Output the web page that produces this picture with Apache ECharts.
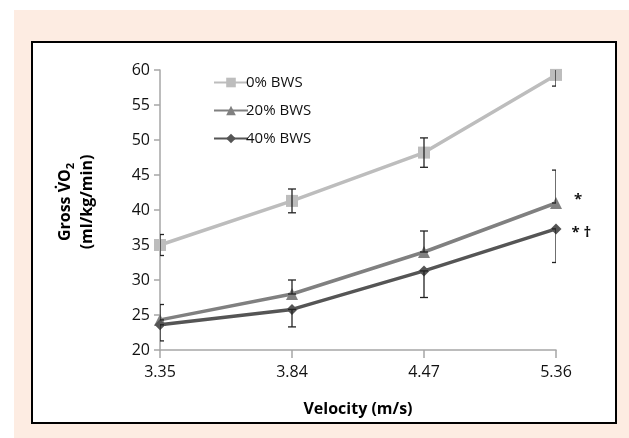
<!DOCTYPE html>
<html>
<head>
<meta charset="utf-8">
<script src="https://cdn.jsdelivr.net/npm/echarts@6/dist/echarts.min.js"></script>
<style>
  html, body { margin: 0; padding: 0; background: #fff; }
  #wrap { position: absolute; left: 14px; top: 10px; width: 615px; height: 428px; background: #fdece2; }
  #box { position: absolute; left: 31px; top: 41px; width: 582px; height: 379px; background: #fff; border: 2px solid #000; }
  #chart { position: absolute; left: 0; top: 0; width: 629px; height: 438px; }
</style>
</head>
<body>
<div id="wrap"></div>
<div id="box"></div>
<div id="chart"></div>
<script>
// 速度（类目）
var velocities = ['3.35', '3.84', '4.47', '5.36'];
// 各组均值
var bws0 = [35.0, 41.3, 48.2, 59.3];
var bws20 = [24.3, 28.0, 34.0, 41.0];
var bws40 = [23.6, 25.8, 31.3, 37.3];
// 误差（0%双向，20%只向上，40%只向下）
var bws0Err = [1.5, 1.7, 2.1, 1.6];
var bws20Err = [2.2, 2.0, 3.0, 4.7];
var bws40Err = [2.3, 2.5, 3.8, 4.8];

var font = 'Open Sans';

function errData(vals, errs, up, down) {
    return vals.map(function (v, i) {
        return [i, down ? v - errs[i] : v, up ? v + errs[i] : v];
    });
}
var errAll = errData(bws0, bws0Err, true, true)
    .concat(errData(bws20, bws20Err, true, false))
    .concat(errData(bws40, bws40Err, false, true));

function renderErr(params, api) {
    var lo = api.coord([api.value(0), api.value(1)]);
    var hi = api.coord([api.value(0), api.value(2)]);
    var w = 4;
    var st = { stroke: '#222', lineWidth: 1.3 };
    return {
        type: 'group',
        children: [
            { type: 'line', shape: { x1: lo[0], y1: lo[1], x2: hi[0], y2: hi[1] }, style: st },
            { type: 'line', shape: { x1: lo[0] - w, y1: lo[1], x2: lo[0] + w, y2: lo[1] }, style: st },
            { type: 'line', shape: { x1: hi[0] - w, y1: hi[1], x2: hi[0] + w, y2: hi[1] }, style: st }
        ]
    };
}

var myChart = echarts.init(document.getElementById('chart'));
var option = {
    backgroundColor: 'transparent',
    animation: false,
    textStyle: { fontFamily: font },
    grid: { left: 160, right: 73, top: 70, bottom: 88 },
    legend: {
        orient: 'vertical',
        left: 208,
        top: 70,
        itemGap: 13,
        itemWidth: 34,
        itemHeight: 12,
        data: ['0% BWS', '20% BWS', '40% BWS'],
        textStyle: { fontFamily: font, fontSize: 15, color: '#111', padding: [0, 0, 0, -7] }
    },
    xAxis: {
        type: 'category',
        data: velocities,
        boundaryGap: false,
        name: 'Velocity (m/s)',
        nameLocation: 'middle',
        nameGap: 51,
        nameTextStyle: { fontFamily: font, fontSize: 16, fontWeight: 'bold', color: '#000' },
        axisLine: { lineStyle: { color: '#a6a6a6', width: 1.5 } },
        axisTick: { show: true, length: 8, lineStyle: { color: '#a6a6a6', width: 1.5 } },
        axisLabel: { fontFamily: font, fontSize: 16, color: '#111', margin: 14 },
        splitLine: { show: false }
    },
    yAxis: {
        type: 'value',
        min: 20,
        max: 60,
        interval: 5,
        axisLine: { show: true, lineStyle: { color: '#a6a6a6', width: 1.5 } },
        axisTick: { show: true, length: 6, lineStyle: { color: '#a6a6a6', width: 1.5 } },
        axisLabel: { fontFamily: font, fontSize: 16, color: '#111', margin: 10 },
        splitLine: { show: false }
    },
    graphic: [{
        type: 'text',
        x: 76,
        y: 202,
        rotation: Math.PI / 2,
        style: {
            text: '{t|Gross V\u0307O}{s|2}\n{t|(ml/kg/min)}',
            align: 'center',
            verticalAlign: 'middle',
            lineHeight: 22,
            rich: {
                t: { fontFamily: font, fontSize: 16, fontWeight: 'bold', fill: '#000', lineHeight: 22 },
                s: { fontFamily: font, fontSize: 11, fontWeight: 'bold', fill: '#000', verticalAlign: 'bottom', padding: [8, 0, 0, 0] }
            }
        }
    }],
    series: [
        {
            name: '0% BWS',
            type: 'line',
            data: bws0,
            symbol: 'rect',
            symbolSize: 12,
            color: '#bdbdbd',
            lineStyle: { width: 3.5, color: '#bdbdbd' },
            z: 3
        },
        {
            name: '20% BWS',
            type: 'line',
            data: bws20.map(function (v, i) {
                return i === bws20.length - 1 ? { value: v, label: { show: true, formatter: '*' } } : v;
            }),
            symbol: 'triangle',
            symbolSize: 12,
            color: '#808080',
            lineStyle: { width: 3.5, color: '#808080' },
            label: { show: false, position: 'right', distance: 12, fontFamily: font, fontSize: 15, fontWeight: 'bold', color: '#111', offset: [0, -3] },
            z: 4
        },
        {
            name: '40% BWS',
            type: 'line',
            data: bws40.map(function (v, i) {
                return i === bws40.length - 1 ? { value: v, label: { show: true, formatter: '* \u2020' } } : v;
            }),
            symbol: 'diamond',
            symbolSize: 11,
            color: '#555555',
            lineStyle: { width: 3.5, color: '#555555' },
            label: { show: false, position: 'right', distance: 10, fontFamily: font, fontSize: 15, fontWeight: 'bold', color: '#111', offset: [0, 4] },
            z: 5
        },
        {
            type: 'custom',
            renderItem: renderErr,
            data: errAll,
            clip: true,
            silent: true,
            z: 6
        }
    ]
};
myChart.setOption(option);
</script>
</body>
</html>
